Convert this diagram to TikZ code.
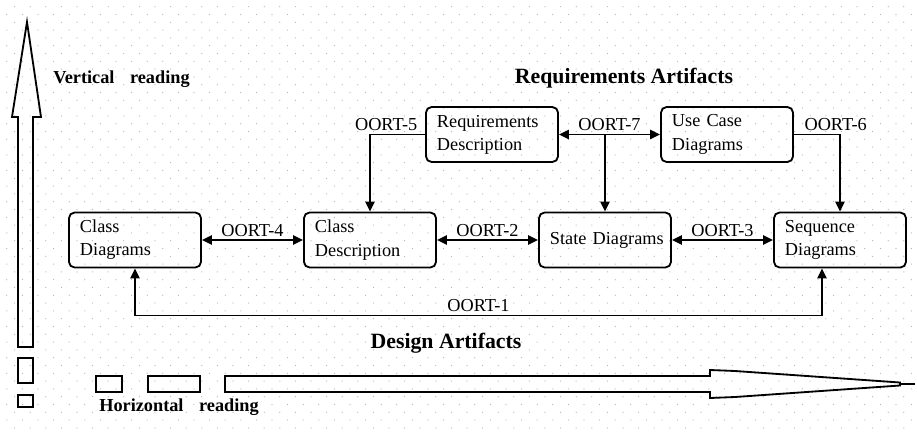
\documentclass[tikz,border=0pt]{standalone}
\usepackage{fontspec}
\setmainfont{Liberation Serif}
\usetikzlibrary{arrows.meta, positioning, calc}
\definecolor{dotc}{HTML}{B4B4B4}

\begin{document}
\begin{tikzpicture}[x=0.025cm, y=-0.025cm, font=\fontsize{13}{16.5}\selectfont,
      box/.style={rounded corners=4pt, draw, line width=1.3pt,
                  minimum width=3.3cm, minimum height=1.375cm,
                  text width=2.75cm, inner xsep=0.275cm, align=left},
      lab/.style={inner sep=2pt},
      ttl/.style={inner sep=0pt, font=\fontsize{15.5}{18}\selectfont\bfseries},
      rdg/.style={inner sep=0pt, anchor=west, font=\fontsize{13}{16}\selectfont\bfseries},
      ar/.style={-{Triangle[length=7pt, width=6.5pt]}, line width=1.1pt},
      dar/.style={{Triangle[length=7pt, width=6.5pt]}-{Triangle[length=7pt, width=6.5pt]},
                  line width=1.1pt},
      big/.style={line width=1.3pt, line join=miter}]
    \fill[white] (0,0) rectangle (917,435);
    \useasboundingbox (0,0) rectangle (917,435);
    % dotted paper
    \foreach \j in {0,...,54}{
      \pgfmathsetmacro{\off}{mod(\j,2)*7.8-1}
      \fill[dotc] \foreach \i in {0,2,...,116}{
        ({\i*7.8+\off},{\j*7.8+6.7}) circle[radius=0.45pt]};}
    % reading directions
    \draw[big] (18,347) -- (18,117) -- (12,117) -- (27,22) -- (41,117) -- (33,117)
      -- (33,347) -- cycle;
    \draw[big] (18,358) rectangle (33,383);
    \draw[big] (18,395) rectangle (33,407);
    \draw[big] (225,376) -- (710,376) -- (710,370) -- (735,371) -- (900,382.5)
      -- (900,385.5) -- (735,397) -- (710,398) -- (710,392) -- (225,392) -- cycle;
    \draw[big] (900,384) -- (915,384);
    \draw[big] (96,376) rectangle (122,392);
    \draw[big] (148,376) rectangle (200,392);
    \node[rdg] (vread) at (53,79) {Vertical\hspace{0.85em}reading};
    \node[rdg] (hread) at (99,407) {Horizontal\hspace{0.85em}reading};
    % artifacts
    \node[ttl] (reqart) at (624,78) {Requirements Artifacts};
    \node[ttl] (desart) at (446,343) {Design Artifacts};
    \node[box] (rdesc) at (492,134.5) {Requirements\\Description};
    \node[box] (uc) at (727,134.5) {\mbox{Use Case}\\Diagrams};
    \node[box] (cd) at (135,240) {Class\\Diagrams};
    \node[box] (cdesc) at (370,240) {Class\\Description};
    \node[box] (sd) at (605,240) {\mbox{State Diagrams}};
    \node[box] (seq) at (840,240) {Sequence\\Diagrams};
    % traceability links
    \draw[dar] (cd) -- node[lab, above] (o4) {OORT-4} (cdesc);
    \draw[dar] (cdesc) -- node[lab, above] (o2) {OORT-2} (sd);
    \draw[dar] (sd) -- node[lab, above] (o3) {OORT-3} (seq);
    \draw[dar] (rdesc) -- node[lab, above] (o7) {OORT-7} (uc);
    \coordinate (j7) at (sd.north |- rdesc.east);
    \draw[ar] (j7) -- (sd.north);
    \draw[ar] (rdesc.west) node[lab, above left, xshift=-3pt] (o5) {OORT-5} -| (cdesc.north);
    \draw[ar] (uc.east) node[lab, above right, xshift=5pt] (o6) {OORT-6} -| (seq.north);
    \coordinate (s1) at ([xshift=-0.45cm]seq.south);
    \draw[dar] (cd.south) -- ++(0,47) -| node[lab, above, pos=0.25] (o1) {OORT-1} (s1);
  \end{tikzpicture}
\end{document}
